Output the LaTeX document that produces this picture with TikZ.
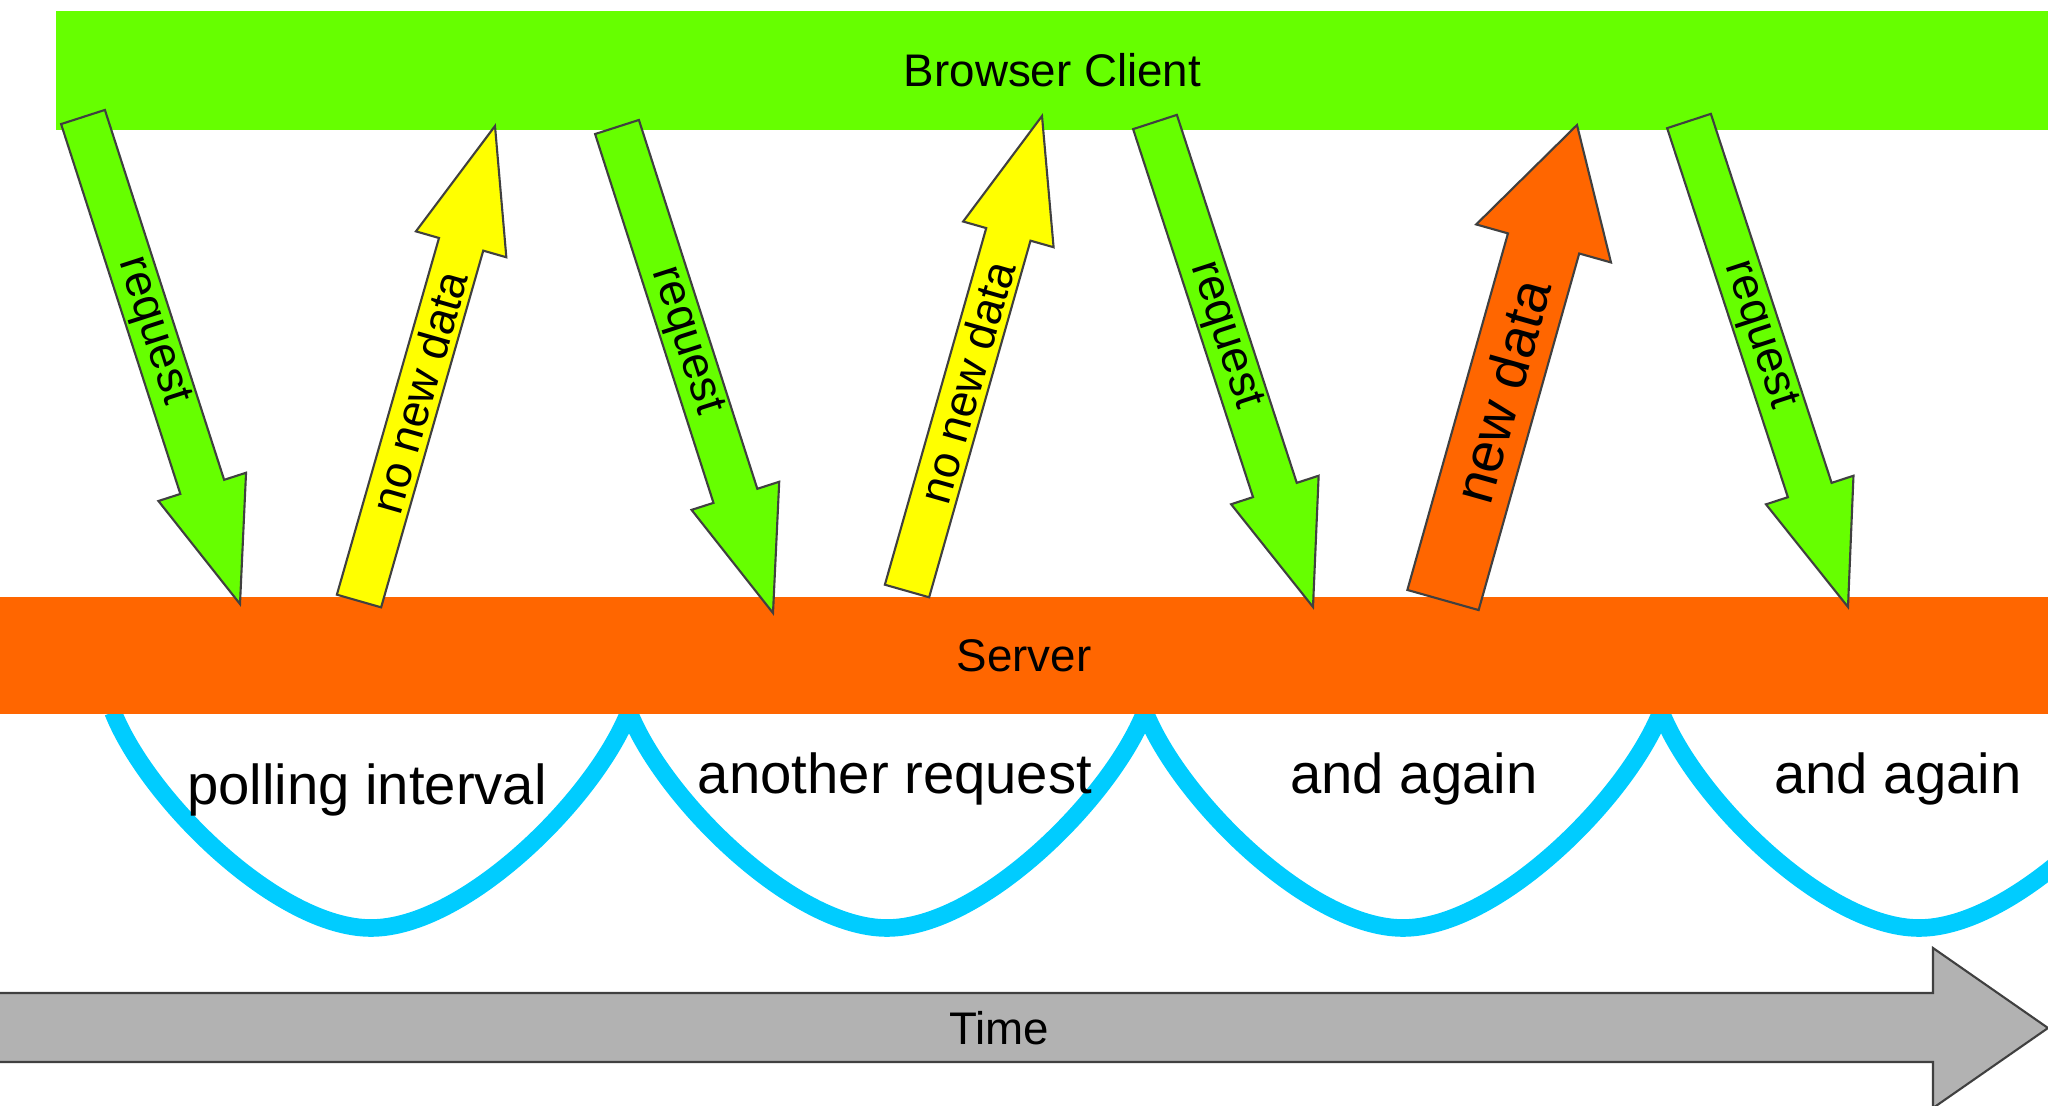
\documentclass[tikz,border=0pt]{standalone}
\usepackage{fontspec}
\setmainfont{Liberation Sans}
\usetikzlibrary{calc}
\definecolor{clientgreen}{RGB}{102,255,0}
\definecolor{serverorange}{RGB}{255,102,0}
\definecolor{replyyellow}{RGB}{255,255,0}
\definecolor{intervalblue}{RGB}{0,204,255}
\definecolor{timegray}{RGB}{178,178,178}
\tikzset{
  bar/.style={inner sep=0pt, font=\fontsize{13}{15}\selectfont},
  outline/.style={draw=black!75, line width=0.6pt, line join=miter},
  interval/.style={intervalblue, line width=5pt},
  gaplabel/.style={anchor=base, inner sep=0pt, font=\fontsize{16}{19}\selectfont}
}
\begin{document}
\begin{tikzpicture}[x=0.01cm, y=-0.01cm]
        \useasboundingbox (0,0) rectangle (2048,1106);
        \clip (0,0) rectangle (2048,1106);
        % Draw polling interval arches
        \foreach \x in {113,629,1145,1661}
            \draw[interval] (\x,712) .. controls +(35,88) and +(-93,0) .. (\x+258,928)
                .. controls +(93,0) and +(-35,88) .. (\x+516,712);
        % Draw client and server bars
        \node[bar, fill=clientgreen, minimum width=19.91cm, minimum height=1.19cm] (client) at (1052.5,70.5) {Browser Client};
        \node[bar, fill=serverorange, minimum width=20.6cm, minimum height=1.17cm] (server) at (1024,655.5) {Server};
        % Arrow tails and tips
        \coordinate (t1) at (83,117);   \coordinate (h1) at (240,604);
        \coordinate (t2) at (359,601);  \coordinate (h2) at (495,126);
        \coordinate (t3) at (617,127);  \coordinate (h3) at (773,613);
        \coordinate (t4) at (907,591);  \coordinate (h4) at (1042,116);
        \coordinate (t5) at (1155,122); \coordinate (h5) at (1313,607);
        \coordinate (t6) at (1443,600); \coordinate (h6) at (1577,125);
        \coordinate (t7) at (1689,121); \coordinate (h7) at (1848,607);
        % Draw request and reply arrows
        \foreach \i/\col/\hw/\hh/\fs/\txt in {1/clientgreen/0.23cm/0.46cm/13/request,
                2/replyyellow/0.23cm/0.47cm/13/no new data,
                3/clientgreen/0.23cm/0.46cm/13/request,
                4/replyyellow/0.23cm/0.47cm/13/no new data,
                5/clientgreen/0.23cm/0.46cm/13/request,
                6/serverorange/0.37cm/0.70cm/16/new data,
                7/clientgreen/0.23cm/0.46cm/13/request} {
            \coordinate (b\i) at ($(h\i)!1.23cm!(t\i)$);
            \draw[outline, fill=\col] ($(t\i)!\hw!90:(h\i)$) -- ($(b\i)!\hw!90:(h\i)$)
                -- ($(b\i)!\hh!90:(h\i)$) -- (h\i) -- ($(b\i)!\hh!-90:(h\i)$)
                -- ($(b\i)!\hw!-90:(h\i)$) -- ($(t\i)!\hw!-90:(h\i)$) -- cycle;
            \path let \p1 = ($(h\i)-(t\i)$) in
                node[inner sep=0pt, font=\fontsize{\fs}{\fs}\selectfont, rotate={atan2(\y1,\x1)}]
                (msg\i) at ($(t\i)!0.44!(h\i)$) {\txt};
        }
        % Labels under the arches
        \node[gaplabel] (gap1) at (367,804) {polling interval};
        \node[gaplabel] (gap2) at (895,793) {another request};
        \node[gaplabel] (gap3) at (1414,793) {and again};
        \node[gaplabel] (gap4) at (1898,793) {and again};
        % Draw time axis
        \draw[outline, fill=timegray] (-5,993) -- (1933,993) -- (1933,948) -- (2048,1028)
            -- (1933,1108) -- (1933,1062) -- (-5,1062) -- cycle;
        \node[bar] (time) at (999,1028) {Time};
\end{tikzpicture}
\end{document}
